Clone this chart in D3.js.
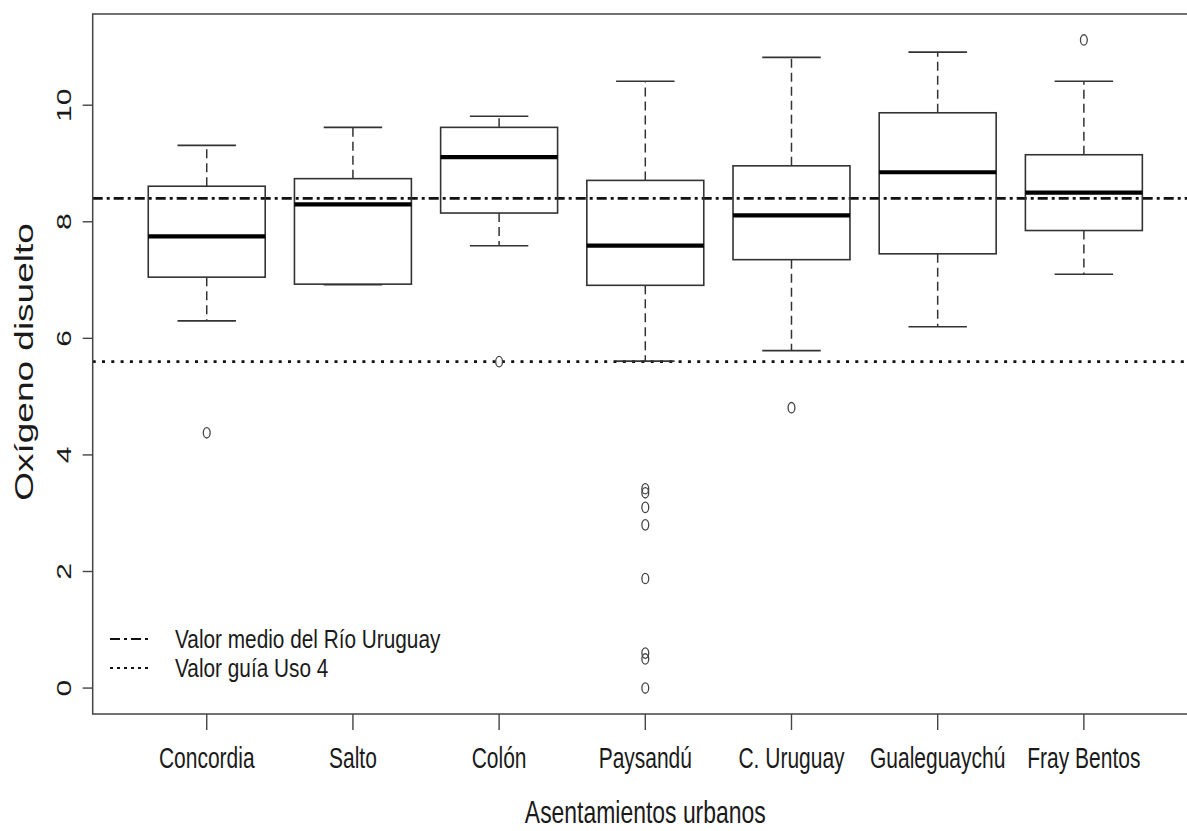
<!DOCTYPE html>
<html>
<head>
<meta charset="utf-8">
<script src="https://cdn.jsdelivr.net/npm/d3@7"></script>
<style>
  html, body { margin: 0; padding: 0; background: #fff; }
  svg { display: block; }
  text { font-family: "Liberation Sans", Arial, sans-serif; fill: #1a1a1a; }
</style>
</head>
<body>
<svg id="chart" width="1187" height="831"></svg>
<script>
// ---- data ----
const categories = ["Concordia", "Salto", "Colón", "Paysandú", "C. Uruguay", "Gualeguaychú", "Fray Bentos"];
const lowerWhisker = [6.30, 6.92, 7.59, 5.61, 5.79, 6.20, 7.10];
const q1 = [7.05, 6.93, 8.15, 6.91, 7.35, 7.45, 7.85];
const median = [7.75, 8.30, 9.11, 7.59, 8.11, 8.85, 8.50];
const q3 = [8.61, 8.74, 9.62, 8.71, 8.96, 9.87, 9.15];
const upperWhisker = [9.31, 9.62, 9.81, 10.41, 10.82, 10.91, 10.41];
const outliers = [[4.38], [], [5.60], [3.42, 3.35, 3.10, 2.80, 1.88, 0.60, 0.50, 0.00], [4.81], [], [11.12]];
const yTicks = [0, 2, 4, 6, 8, 10];
const meanRioUruguay = 8.40;
const guideUso4 = 5.60;
const legendLabels = ["Valor medio del Río Uruguay", "Valor guía Uso 4"];
const xTitle = "Asentamientos urbanos";
const yTitle = "Oxígeno disuelto";

(function () {
// ---- layout ----
const pLeft = 92.7, pRight = 1197.9, pTop = 14, pBottom = 714;
const sx = 0.7; // horizontal squeeze of the reference image

const svg = d3.select("#chart");

// R-like extended ranges
const n = categories.length;
const xr = [0.5, n + 0.5];
const xpad = (xr[1] - xr[0]) * 0.04;
const x = d3.scaleLinear().domain([xr[0] - xpad, xr[1] + xpad]).range([pLeft, pRight]);

const allVals = lowerWhisker.concat(upperWhisker, outliers.flat());
const ymin = d3.min(allVals), ymax = d3.max(allVals);
const ypad = (ymax - ymin) * 0.04;
const y = d3.scaleLinear().domain([ymin - ypad, ymax + ypad]).range([pBottom, pTop]);

const boxW = (x(2) - x(1)) * 0.8;
const lineCol = "#333";

const data = categories.map((c, i) => ({
  c, pos: i + 1, lo: lowerWhisker[i], q1: q1[i], med: median[i], q3: q3[i], hi: upperWhisker[i], out: outliers[i]
}));

// reference lines (drawn first)
svg.append("line")
  .attr("x1", pLeft).attr("x2", pRight)
  .attr("y1", y(meanRioUruguay)).attr("y2", y(meanRioUruguay))
  .attr("stroke", "#111").attr("stroke-width", 2.8)
  .attr("stroke-dasharray", "10,4,3,4");
svg.append("line")
  .attr("x1", pLeft).attr("x2", pRight)
  .attr("y1", y(guideUso4)).attr("y2", y(guideUso4))
  .attr("stroke", "#111").attr("stroke-width", 2.6)
  .attr("stroke-dasharray", "3,6.3");

const g = svg.append("g").selectAll("g.box").data(data).join("g").attr("class", "box");

// whiskers (dashed)
g.append("line")
  .attr("x1", d => x(d.pos)).attr("x2", d => x(d.pos))
  .attr("y1", d => y(d.q3)).attr("y2", d => y(d.hi))
  .attr("stroke", lineCol).attr("stroke-width", 1.5).attr("stroke-dasharray", "9,5");
g.append("line")
  .attr("x1", d => x(d.pos)).attr("x2", d => x(d.pos))
  .attr("y1", d => y(d.q1)).attr("y2", d => y(d.lo))
  .attr("stroke", lineCol).attr("stroke-width", 1.5).attr("stroke-dasharray", "9,5");
// caps
g.append("line")
  .attr("x1", d => x(d.pos) - boxW / 4).attr("x2", d => x(d.pos) + boxW / 4)
  .attr("y1", d => y(d.hi)).attr("y2", d => y(d.hi))
  .attr("stroke", lineCol).attr("stroke-width", 1.6);
g.append("line")
  .attr("x1", d => x(d.pos) - boxW / 4).attr("x2", d => x(d.pos) + boxW / 4)
  .attr("y1", d => y(d.lo)).attr("y2", d => y(d.lo))
  .attr("stroke", lineCol).attr("stroke-width", 1.6);
// boxes
g.append("rect")
  .attr("x", d => x(d.pos) - boxW / 2).attr("width", boxW)
  .attr("y", d => y(d.q3)).attr("height", d => y(d.q1) - y(d.q3))
  .attr("fill", "none").attr("stroke", lineCol).attr("stroke-width", 1.6);
// medians
g.append("line")
  .attr("x1", d => x(d.pos) - boxW / 2).attr("x2", d => x(d.pos) + boxW / 2)
  .attr("y1", d => y(d.med)).attr("y2", d => y(d.med))
  .attr("stroke", "#000").attr("stroke-width", 4.2);
// outliers
g.selectAll("ellipse").data(d => d.out.map(v => ({ pos: d.pos, v }))).join("ellipse")
  .attr("cx", d => x(d.pos)).attr("cy", d => y(d.v))
  .attr("rx", 3.4).attr("ry", 5.2)
  .attr("fill", "none").attr("stroke", "#444").attr("stroke-width", 1.3);

// frame (left, top, bottom; right edge lies outside the view)
svg.append("path")
  .attr("d", `M${pRight},${pTop}H${pLeft}V${pBottom}H${pRight}`)
  .attr("fill", "none").attr("stroke", "#444").attr("stroke-width", 1.5);

// y axis ticks
const yAxis = svg.append("g");
yAxis.selectAll("line").data(yTicks).join("line")
  .attr("x1", pLeft - 10).attr("x2", pLeft)
  .attr("y1", d => y(d)).attr("y2", d => y(d))
  .attr("stroke", "#444").attr("stroke-width", 1.4);
yAxis.selectAll("text").data(yTicks).join("text")
  .attr("transform", d => `translate(71,${y(d)}) rotate(-90) scale(1,${sx})`)
  .attr("text-anchor", "middle")
  .attr("font-size", 30)
  .text(d => d3.format("d")(d));

// x axis ticks
const xAxis = svg.append("g");
xAxis.selectAll("line").data(data).join("line")
  .attr("x1", d => x(d.pos)).attr("x2", d => x(d.pos))
  .attr("y1", pBottom).attr("y2", pBottom + 16)
  .attr("stroke", "#444").attr("stroke-width", 1.4);
xAxis.selectAll("text").data(data).join("text")
  .attr("transform", d => `translate(${x(d.pos)},768) scale(${sx},1)`)
  .attr("text-anchor", "middle")
  .attr("font-size", 30)
  .text(d => d.c);

// axis titles
svg.append("text")
  .attr("transform", `translate(${(pLeft + pRight) / 2},823) scale(0.74,1)`)
  .attr("text-anchor", "middle").attr("font-size", 31)
  .text(xTitle);
svg.append("text")
  .attr("transform", `translate(33,362) rotate(-90) scale(1,${sx})`)
  .attr("text-anchor", "middle").attr("font-size", 37)
  .text(yTitle);

// legend
const legendY = [639, 668];
const legendDash = ["10,4,3,4", "3,4"];
const leg = svg.append("g");
legendLabels.forEach((lab, i) => {
  leg.append("line")
    .attr("x1", 110).attr("x2", 150)
    .attr("y1", legendY[i]).attr("y2", legendY[i])
    .attr("stroke", "#111").attr("stroke-width", 2)
    .attr("stroke-dasharray", legendDash[i]);
  leg.append("text")
    .attr("transform", `translate(175,${legendY[i] + 9}) scale(0.8,1)`)
    .attr("font-size", 26)
    .text(lab);
});
})();
</script>
</body>
</html>
